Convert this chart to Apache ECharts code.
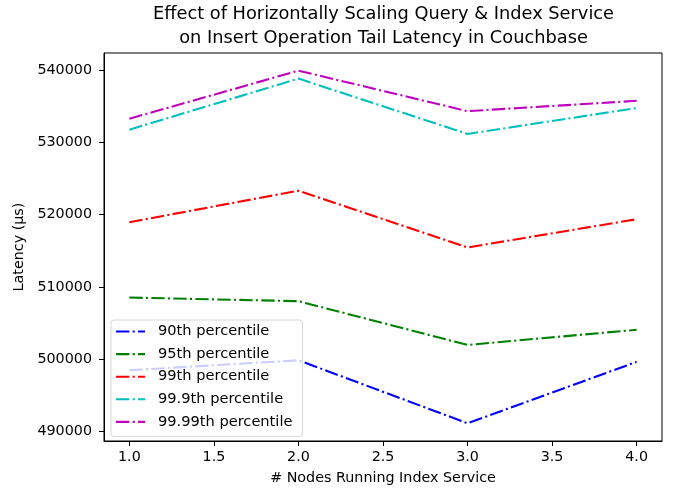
<!DOCTYPE html>
<html><head><meta charset="utf-8">
<script src="https://cdn.jsdelivr.net/npm/echarts@6/dist/echarts.min.js"></script>
<style>html,body{margin:0;padding:0;background:#fff}#c{width:674px;height:490px}</style>
</head><body><div id="c"></div>
<script>
const nodes = [1, 2, 3, 4];
const p90 = [498480, 499860, 491150, 499640];
const p95 = [508530, 508030, 501980, 504080];
const p99 = [518950, 523300, 515460, 519360];
const p999 = [531740, 538800, 531150, 534730];
const p9999 = [533250, 539900, 534300, 535730];
const seriesNames = ['90th percentile', '95th percentile', '99th percentile', '99.9th percentile', '99.99th percentile'];
const seriesColors = ['#0000ff', '#008000', '#ff0000', '#00bfbf', '#bf00bf'];
const xTicks = [1.0, 1.5, 2.0, 2.5, 3.0, 3.5, 4.0];
const yTicks = [490000, 500000, 510000, 520000, 530000, 540000];

const allData = [p90, p95, p99, p999, p9999];
const font = 'DejaVu Sans';
const dash = [13.3, 3.3, 2.1, 3.3];
const chart = echarts.init(document.getElementById('c'));
chart.setOption({
  animation: false,
  title: {
    text: 'Effect of Horizontally Scaling Query & Index Service\non Insert Operation Tail Latency in Couchbase',
    left: 383.5, textAlign: 'center', top: 2, padding: 0,
    textStyle: { fontFamily: font, fontSize: 17.8, fontWeight: 'normal', color: '#000', lineHeight: 24.3 }
  },
  grid: { left: 104, right: 12, top: 53, bottom: 46, show: true, borderColor: '#000', borderWidth: 1, backgroundColor: 'transparent' },
  legend: {
    orient: 'vertical', left: 111, top: 320,
    itemWidth: 29, itemHeight: 14, itemGap: 7.6,
    backgroundColor: 'rgba(255,255,255,0.8)', borderColor: '#d8d8d8', borderWidth: 1, borderRadius: 3,
    padding: [4, 10, 7, 4],
    itemStyle: { opacity: 0 },
    lineStyle: { width: 2.1, type: dash },
    textStyle: { fontFamily: font, fontSize: 14.6, lineHeight: 15, color: '#000', padding: [0, 0, 0, 8] },
    data: seriesNames
  },
  xAxis: {
    type: 'value', min: 0.85, max: 4.15,
    name: '# Nodes Running Index Service', nameLocation: 'middle', nameGap: 30,
    nameTextStyle: { fontFamily: font, fontSize: 14.3, color: '#000' },
    splitLine: { show: false },
    axisLine: { show: true, lineStyle: { color: '#000' } },
    axisTick: { show: true, length: 5, customValues: xTicks, lineStyle: { color: '#000' } },
    axisLabel: { customValues: xTicks, fontFamily: font, fontSize: 14.3, color: '#000', margin: 9, formatter: v => v.toFixed(1) }
  },
  yAxis: {
    type: 'value', min: 488700, max: 542340,
    name: 'Latency (µs)', nameLocation: 'middle', nameGap: 77, nameRotate: 90,
    nameTextStyle: { fontFamily: font, fontSize: 14.3, color: '#000' },
    splitLine: { show: false },
    axisLine: { show: true, lineStyle: { color: '#000' } },
    axisTick: { show: true, length: 5, customValues: yTicks, lineStyle: { color: '#000' } },
    axisLabel: { customValues: yTicks, fontFamily: font, fontSize: 14.3, color: '#000', margin: 12, formatter: v => String(v) }
  },
  series: allData.map((d, i) => ({
    name: seriesNames[i], type: 'line', symbol: 'none',
    data: nodes.map((x, j) => [x, d[j]]),
    color: seriesColors[i],
    lineStyle: { width: 2.1, color: seriesColors[i], type: dash }
  }))
});
</script></body></html>
